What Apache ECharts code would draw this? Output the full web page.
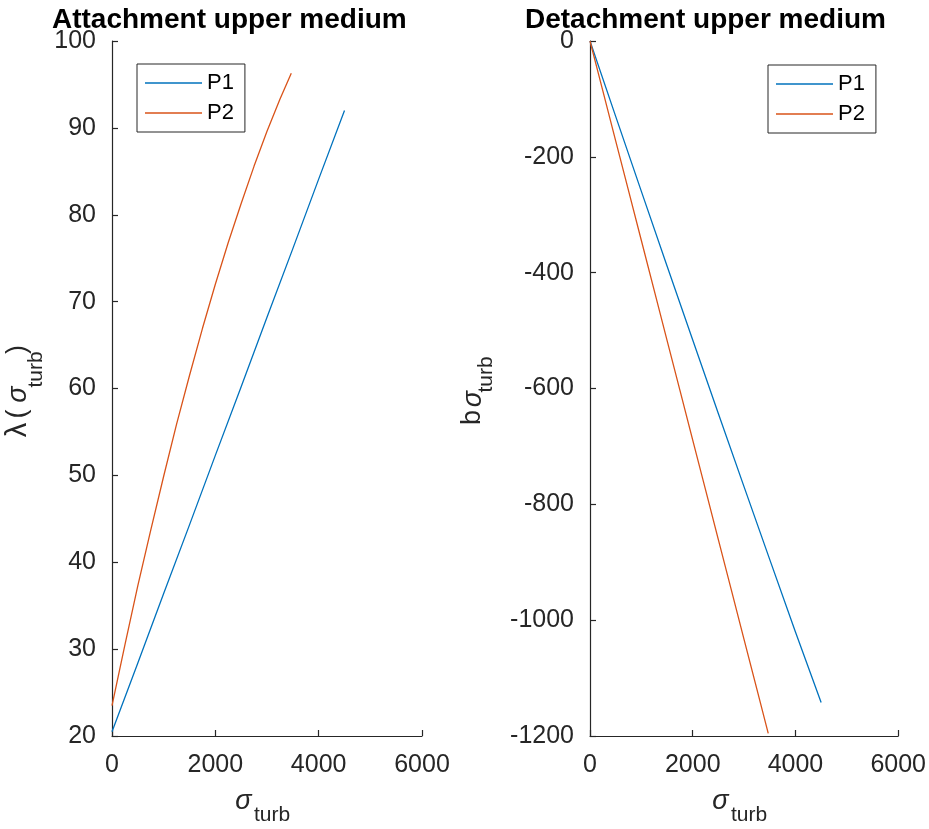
<!DOCTYPE html>
<html>
<head>
<meta charset="utf-8">
<script src="https://cdn.jsdelivr.net/npm/echarts@6/dist/echarts.min.js"></script>
<style>html,body{margin:0;padding:0;background:#fff}#c{width:929px;height:829px}</style>
</head>
<body>
<div id="c"></div>
<script>
// ---- data ----
var sigmaP1 = [0, 500, 1000, 1500, 2000, 2500, 3000, 3500, 4000, 4500];
var lambdaP1 = [20.5, 28.4, 36.4, 44.3, 52.3, 60.2, 68.2, 76.1, 84.1, 92.0];
var bP1 = [0, -130.2, -259.7, -388.4, -516.3, -643.5, -769.9, -895.5, -1020.4, -1142];

var sigmaP2 = [0, 250, 500, 750, 1000, 1250, 1500, 1750, 2000, 2250, 2500, 2750, 3000, 3250, 3470];
var lambdaP2 = [23.5, 30.5, 37.3, 43.7, 49.9, 55.9, 61.5, 66.9, 72.0, 76.8, 81.3, 85.6, 89.6, 93.3, 96.3];
var bP2 = [0, -86.1, -172.3, -258.4, -344.5, -430.6, -516.8, -602.9, -689.0, -775.1, -861.3, -947.4, -1033.5, -1119.6, -1195.4];

var seriesNames = ['P1', 'P2'];
var titles = ['Attachment upper medium', 'Detachment upper medium'];
var xTicks = {min: 0, max: 6000, interval: 2000};
var yLeftTicks = {min: 20, max: 100, interval: 10};
var yRightTicks = {min: -1200, max: 0, interval: 200};

function pairs(xs, ys) { return xs.map(function (x, i) { return [x, ys[i]]; }); }

var FONT = '"Liberation Sans", Arial, sans-serif';
var AX = '#262626';
var C1 = '#0072BD', C2 = '#D95319';

function plain(v) { return String(v); }

function axisCommon(extra, margin) {
  return Object.assign({
    type: 'value',
    axisLine: {show: true, onZero: false, lineStyle: {color: AX, width: 1.2}},
    axisTick: {show: true, inside: true, length: 6, lineStyle: {color: AX, width: 1.2}},
    splitLine: {show: false},
    axisLabel: {color: AX, fontSize: 25, fontFamily: FONT, margin: margin, formatter: plain}
  }, extra);
}

function txt(x, y, text, size, opts) {
  opts = opts || {};
  return {type: 'text', x: x, y: y, style: {
    text: text, fill: opts.fill || AX,
    font: (opts.italic ? 'italic ' : '') + size + 'px ' + FONT,
    align: 'center', verticalAlign: 'middle'
  }};
}

var graphics = [
  // x-axis names
  {type: 'group', children: [txt(243.5, 801, 'σ', 27, {italic: true}), txt(272, 815, 'turb', 21)]},
  {type: 'group', children: [txt(720.5, 801, 'σ', 27, {italic: true}), txt(749, 815, 'turb', 21)]},
  // left y-axis name, rotated
  {type: 'group', x: 27, y: 440, rotation: Math.PI / 2, children: [
    txt(10, -9, 'λ', 29), txt(26, -9, '(', 27), txt(45.5, -9, 'σ', 27, {italic: true}),
    txt(70.5, 9, 'turb', 21), txt(90.5, -9, ')', 27)
  ]},
  // right y-axis name, rotated
  {type: 'group', x: 482, y: 428, rotation: Math.PI / 2, children: [
    txt(10.5, -9, 'b', 27), txt(29, -9, 'σ', 27, {italic: true}), txt(53.5, 4, 'turb', 21)
  ]}
];

var legendCommon = {
  orient: 'vertical', icon: 'rect', itemWidth: 57, itemHeight: 1.3, itemGap: 8, itemTextGap: 6,
  padding: [8, 11, 8, 8], borderColor: AX, borderWidth: 1, backgroundColor: '#fff',
  textStyle: {fontSize: 22, color: '#000', fontFamily: FONT}, data: seriesNames
};

var titleStyle = {fontSize: 28, fontWeight: 'bold', color: '#000', fontFamily: FONT};

var option = {
  animation: false,
  backgroundColor: '#fff',
  title: [
    {text: titles[0], left: 52, top: 6, padding: 0, textStyle: titleStyle},
    {text: titles[1], left: 525, top: 6, padding: 0, textStyle: titleStyle}
  ],
  legend: [
    Object.assign({left: 137, top: 64}, legendCommon),
    Object.assign({left: 768, top: 65}, legendCommon)
  ],
  grid: [
    {left: 112, right: 507, top: 41, bottom: 93},
    {left: 590, right: 29, top: 41, bottom: 93}
  ],
  xAxis: [
    axisCommon({gridIndex: 0, min: xTicks.min, max: xTicks.max, interval: xTicks.interval}, 17),
    axisCommon({gridIndex: 1, min: xTicks.min, max: xTicks.max, interval: xTicks.interval}, 17)
  ],
  yAxis: [
    axisCommon({gridIndex: 0, min: yLeftTicks.min, max: yLeftTicks.max, interval: yLeftTicks.interval}, 16),
    axisCommon({gridIndex: 1, min: yRightTicks.min, max: yRightTicks.max, interval: yRightTicks.interval}, 16)
  ],
  series: [
    {name: 'P1', type: 'line', xAxisIndex: 0, yAxisIndex: 0, data: pairs(sigmaP1, lambdaP1), symbol: 'none', lineStyle: {color: C1, width: 1.3}, itemStyle: {color: C1}},
    {name: 'P2', type: 'line', xAxisIndex: 0, yAxisIndex: 0, data: pairs(sigmaP2, lambdaP2), symbol: 'none', lineStyle: {color: C2, width: 1.3}, itemStyle: {color: C2}},
    {name: 'P1', type: 'line', xAxisIndex: 1, yAxisIndex: 1, data: pairs(sigmaP1, bP1), symbol: 'none', lineStyle: {color: C1, width: 1.3}, itemStyle: {color: C1}},
    {name: 'P2', type: 'line', xAxisIndex: 1, yAxisIndex: 1, data: pairs(sigmaP2, bP2), symbol: 'none', lineStyle: {color: C2, width: 1.3}, itemStyle: {color: C2}}
  ],
  graphic: graphics
};

var chart = echarts.init(document.getElementById('c'), null, {renderer: 'canvas'});
chart.setOption(option);
</script>
</body>
</html>
